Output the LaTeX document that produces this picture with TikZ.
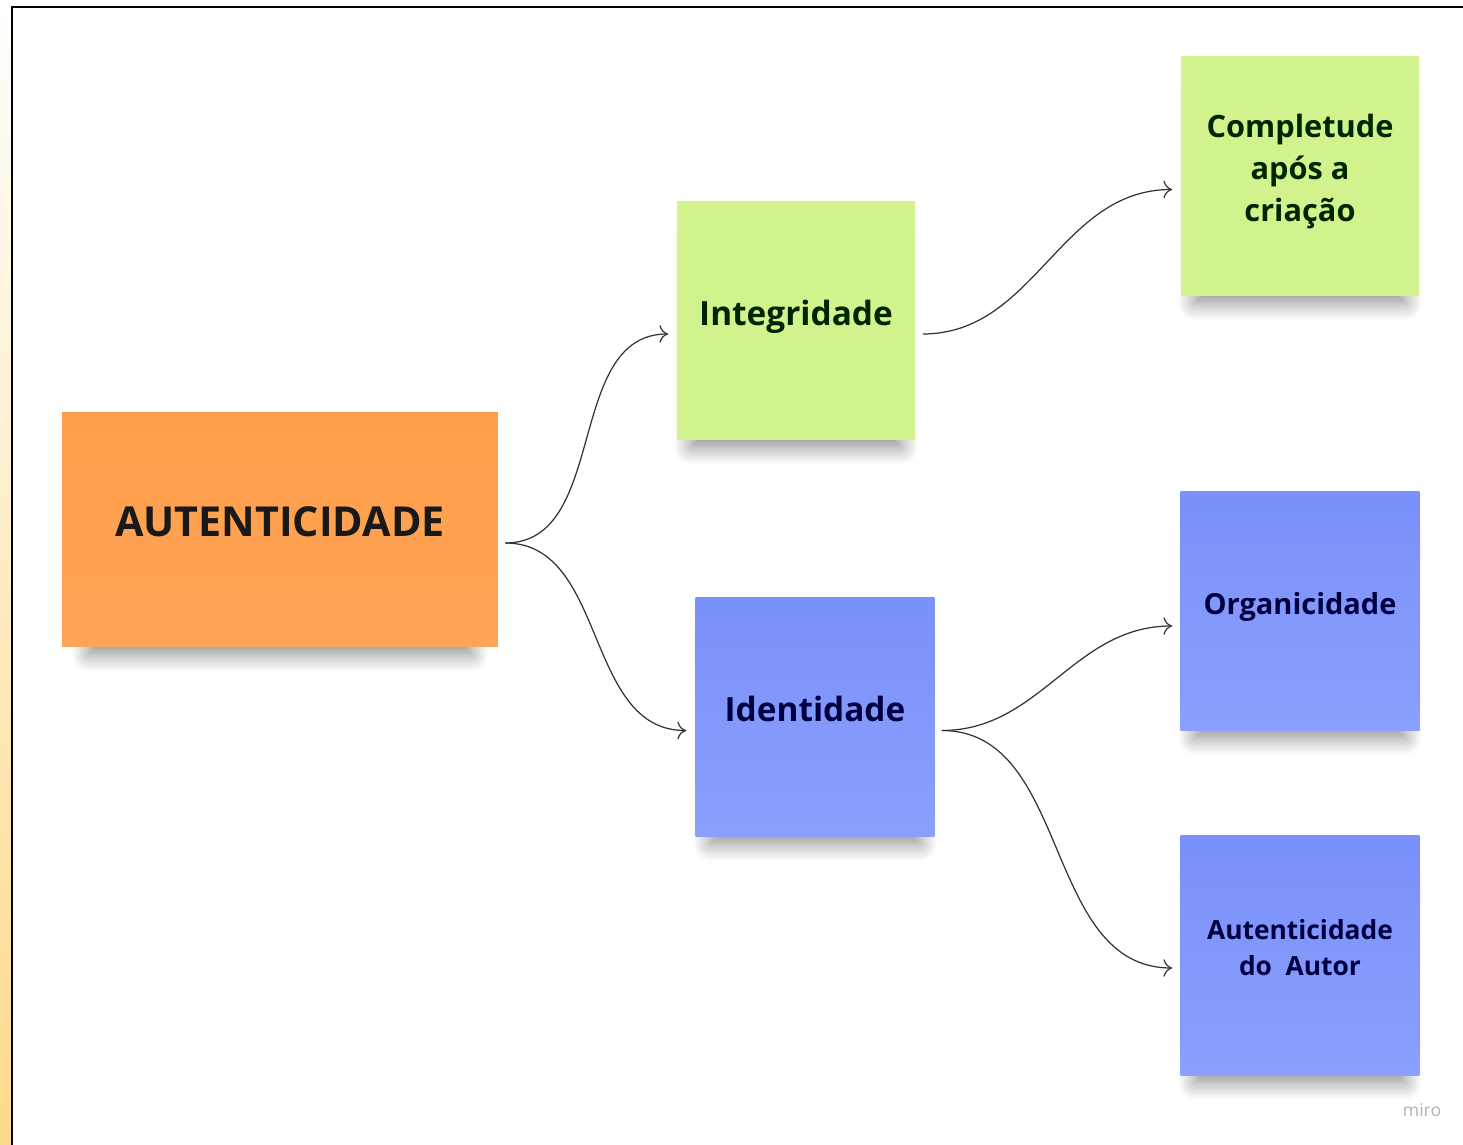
\documentclass[tikz,border=0pt]{standalone}
\usepackage{fontspec}
\setmainfont{Open Sans}
\usepackage{xcolor}
\usepackage{tikz}
\usetikzlibrary{arrows.meta,shadows.blur}

\definecolor{noteorange}{HTML}{FE9E4A}
\definecolor{noteorangeb}{HTML}{FEA456}
\definecolor{notegreen}{HTML}{D1F28C}
\definecolor{noteblue}{HTML}{7A90FA}
\definecolor{noteblueb}{HTML}{8AA0FC}
\definecolor{stripyellow}{HTML}{FDD98A}

\tikzset{
    note/.style={minimum width=4.78cm, minimum height=4.8cm, align=center,
        font=\bfseries, inner sep=2pt, text depth=0.32cm,
        blur shadow={shadow xshift=0pt, shadow yshift=-14pt, shadow scale=0.88,
            shadow blur radius=11pt, shadow blur steps=12, shadow opacity=45}},
    greennote/.style={note, fill=notegreen, text=black!85!green},
    bluenote/.style={note, top color=noteblue, bottom color=noteblueb, text=blue!25!black},
    link/.style={-{To[length=5pt,width=10pt]}, line width=0.7pt, black!80}
}

\begin{document}
\begin{tikzpicture}[x=0.02cm, y=-0.02cm]
    \useasboundingbox (0,0) rectangle (1463,1145);

    % Frame
    \shade[top color=white, bottom color=stripyellow] (0,0) rectangle (11,1145);
    \draw[line width=1.7pt] (12,1145) -- (12,7) -- (1463,7);

    % Main note
    \node[note, top color=noteorange, bottom color=noteorangeb, minimum width=8.72cm, minimum height=4.7cm,
        font=\bfseries\fontsize{23.5}{28}\selectfont, text=black!90] (auth) at (280,529.5) {AUTENTICIDADE};

    % Second level
    \node[greennote, font=\bfseries\fontsize{19}{24}\selectfont] (integ) at (796,320.5) {Integridade};
    \node[bluenote, font=\bfseries\fontsize{19}{24}\selectfont] (ident) at (815,717) {Identidade};

    % Third level
    \node[greennote, font=\bfseries\fontsize{17.5}{24}\selectfont] (compl) at (1300,176) {Completude\\após a\\criação};
    \node[bluenote, font=\bfseries\fontsize{16.5}{22}\selectfont] (organ) at (1300,611) {Organicidade};
    \node[bluenote, font=\bfseries\fontsize{15}{21}\selectfont] (autor) at (1300,955.5) {Autenticidade\\do~ Autor};

    % Links
    \draw[link] ([xshift=0.14cm, yshift=-0.27cm]auth.east) to[out=0, in=180] ([xshift=-0.16cm, yshift=-0.27cm]integ.west);
    \draw[link] ([xshift=0.14cm, yshift=-0.27cm]auth.east) to[out=0, in=180] ([xshift=-0.18cm, yshift=-0.27cm]ident.west);
    \draw[link] ([xshift=0.14cm, yshift=-0.27cm]integ.east) to[out=0, in=180] ([xshift=-0.16cm, yshift=-0.27cm]compl.west);
    \draw[link] ([xshift=0.14cm, yshift=-0.27cm]ident.east) to[out=0, in=180] ([xshift=-0.16cm, yshift=-0.3cm]organ.west);
    \draw[link] ([xshift=0.14cm, yshift=-0.27cm]ident.east) to[out=0, in=180] ([xshift=-0.16cm, yshift=-0.25cm]autor.west);

    % Watermark
    \node[text=black!30, font=\fontsize{10}{12}\selectfont] (miro) at (1422,1110) {miro};
\end{tikzpicture}
\end{document}
